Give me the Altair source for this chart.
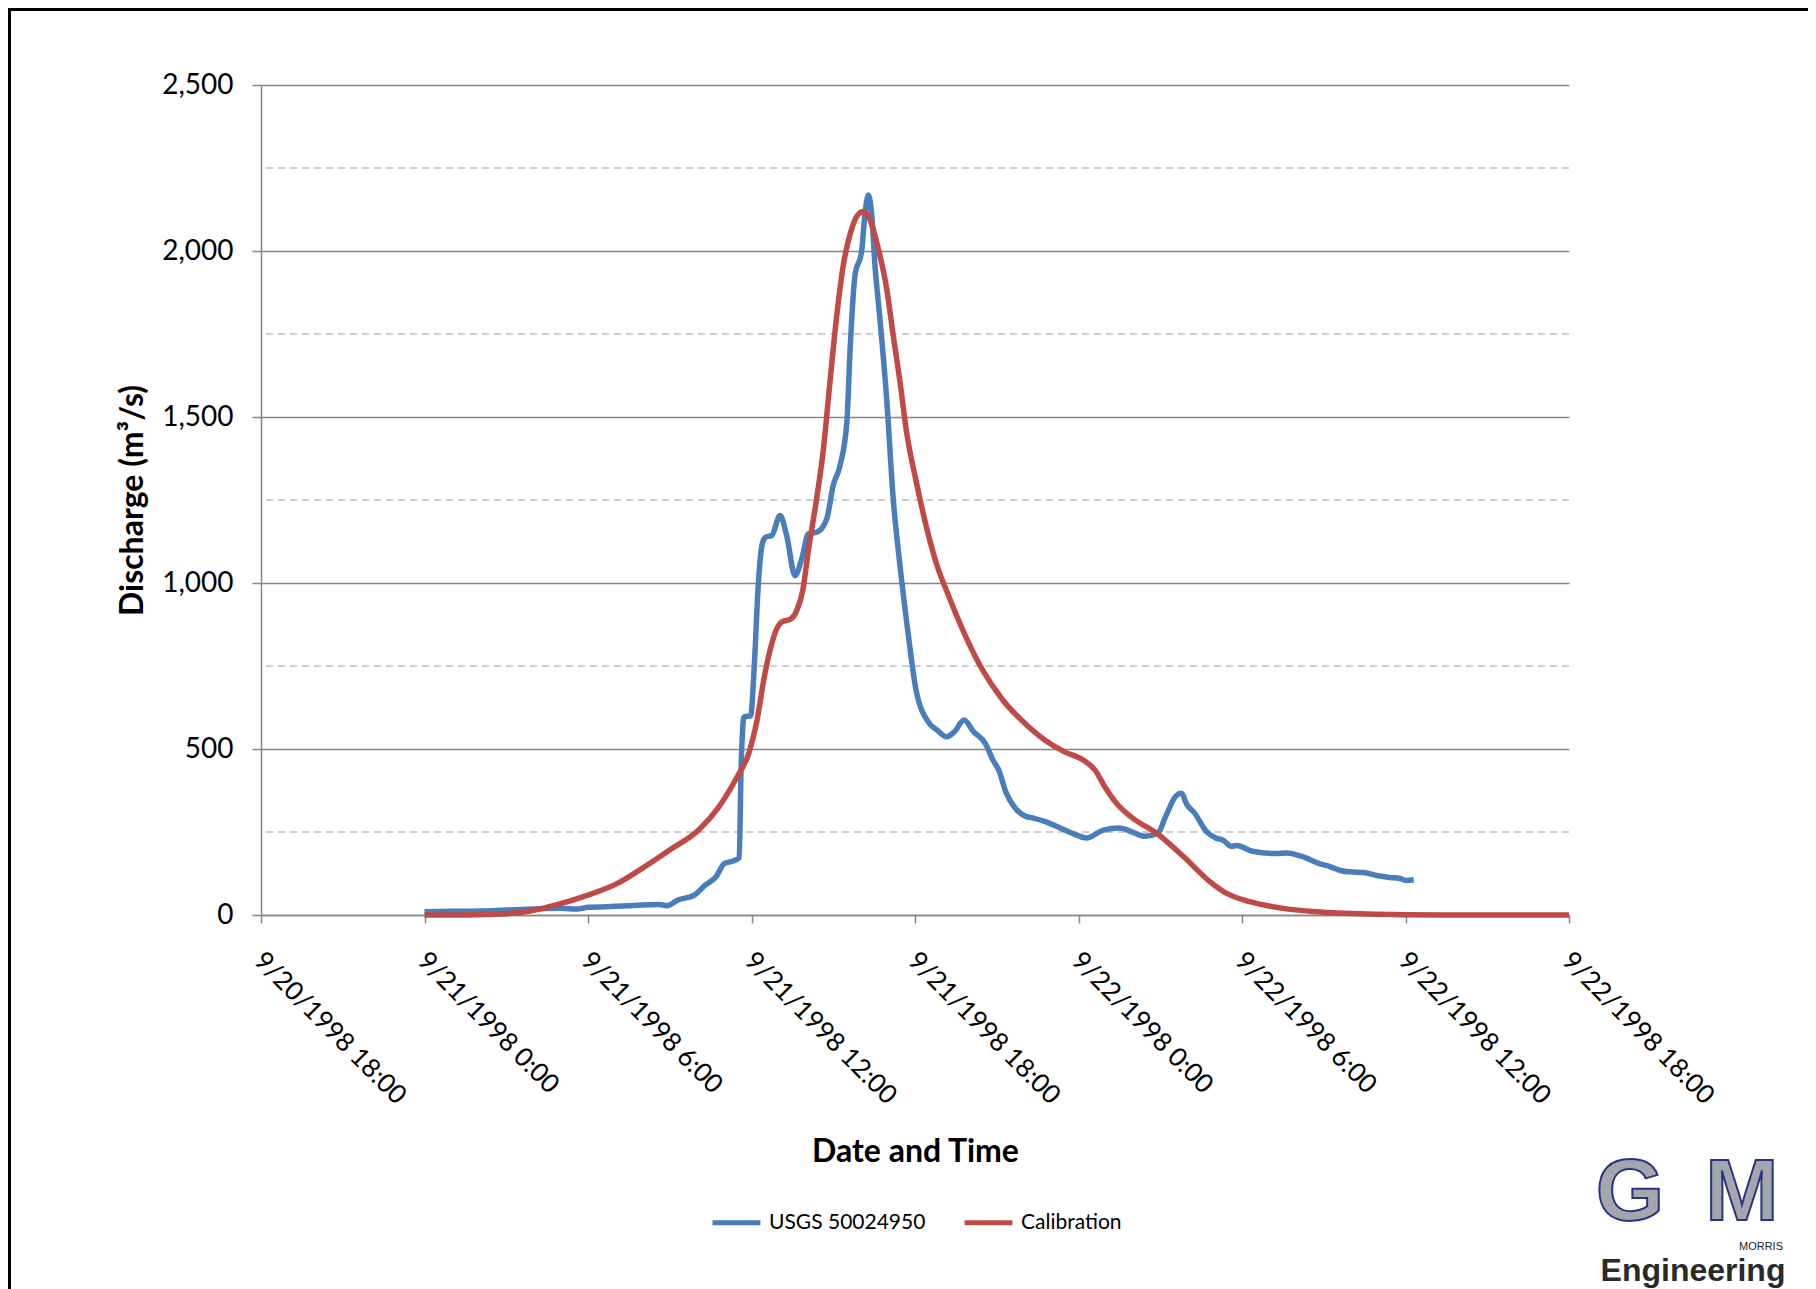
import altair as alt
import pandas as pd

# ---- data (hours after 9/21/1998 0:00) ----
usgs_hours = [0, 1, 2, 3, 4, 5, 5.6, 6, 7, 8, 8.6, 8.9, 9.3, 9.9, 10.3, 10.7, 11.0, 11.3,
              11.55, 11.62, 11.73, 11.97, 12.1, 12.25, 12.4, 12.52, 12.74, 13.05, 13.29,
              13.6, 13.84, 14.09, 14.4, 14.76, 15.0, 15.25, 15.5, 15.62, 15.8, 16.04, 16.16,
              16.29, 16.41, 16.53, 16.7, 16.96, 17.2, 17.45, 17.75, 18.04, 18.53, 18.81,
              19.16, 19.45, 19.8, 20.15, 20.58, 20.86, 21.07, 21.35, 21.63, 22.06, 22.34,
              22.76, 23.33, 23.75, 24.31, 24.88, 25.51, 26.0, 26.43, 26.92, 27.2, 27.56,
              27.77, 27.98, 28.26, 28.69, 29.04, 29.32, 29.6, 29.81, 30.38, 31.22, 31.65,
              32.18, 32.86, 33.23, 33.6, 33.97, 34.46, 34.94, 35.43, 35.8, 36.04, 36.3]
usgs_values = [10, 11, 12, 15, 18, 20, 18, 23, 26, 30, 32, 28, 45, 60, 90, 115, 155, 162,
               172, 450, 597, 600, 747, 997, 1120, 1138, 1143, 1203, 1143,
               1022, 1072, 1148, 1153, 1193, 1294, 1354, 1485, 1706, 1928, 1998, 2109,
               2169, 2109, 1958, 1807, 1555, 1254, 1052, 847, 677, 577, 557,
               537, 552, 587, 552, 517, 467, 437, 367, 327, 297, 292,
               282, 262, 247, 232, 255, 262, 249, 237, 247, 297, 357,
               367, 332, 307, 252, 232, 225, 207, 209, 192, 185, 187,
               177, 154, 146, 134, 130, 128, 119, 113, 110, 104, 106]

calib_hours = [0, 1, 2, 3, 3.7, 4.8, 6, 7.1, 8, 9, 10.07, 10.77, 11.48, 11.9, 12.18, 12.47,
               12.68, 12.9, 13.1, 13.45, 13.66, 13.88, 14.09, 14.39, 14.64, 14.88, 15.13,
               15.37, 15.61, 15.86, 16.1, 16.35, 16.65, 16.96, 17.2, 17.45, 17.69, 18.06,
               18.43, 18.8, 19.24, 19.8, 20.5, 21.2, 22.06, 22.76, 23.47, 24.17, 24.6, 25.0,
               25.4, 26.0, 26.87, 27.85, 28.83, 29.44, 30.29, 31.5, 32.74, 34.6, 36, 38, 40, 42]
calib_values = [0, 0, 1, 4, 10, 30, 60, 96, 141, 196, 257, 322, 417, 487, 577, 717,
                797, 857, 882, 892, 917, 977, 1100, 1254, 1404, 1606, 1807,
                1958, 2048, 2104, 2119, 2094, 2008, 1887, 1746, 1606, 1455, 1300,
                1165, 1055, 960, 850, 735, 650, 575, 527, 492, 467, 437, 382,
                336, 291, 246, 176, 100, 65, 40, 20, 10, 3, 1, 0, 0, 0]

series_names = ["USGS 50024950", "Calibration"]
series_colors = ["#4A7EBB", "#BE4B48"]

x_ticks = ["1998-09-20T18:00", "1998-09-21T00:00", "1998-09-21T06:00", "1998-09-21T12:00",
           "1998-09-21T18:00", "1998-09-22T00:00", "1998-09-22T06:00", "1998-09-22T12:00",
           "1998-09-22T18:00"]
y_major = [0, 500, 1000, 1500, 2000, 2500]
y_minor = [250, 750, 1250, 1750, 2250]

# ---- build tables ----
base = pd.Timestamp("1998-09-21 00:00")


def to_iso(hours):
    return [(base + pd.Timedelta(hours=h)).strftime("%Y-%m-%dT%H:%M:%S") for h in hours]


usgs_df = pd.DataFrame({"t": to_iso(usgs_hours), "q": usgs_values, "series": series_names[0]})
calib_df = pd.DataFrame({"t": to_iso(calib_hours), "q": calib_values, "series": series_names[1]})
minor_df = pd.DataFrame({"q": y_minor})


def dt(s):
    ts = pd.Timestamp(s)
    return alt.DateTime(year=ts.year, month=ts.month, date=ts.day, hours=ts.hour, minutes=ts.minute)


W, H = 1308, 830
GRAY = "#868686"

x_scale = alt.Scale(domain=[dt(x_ticks[0]), dt(x_ticks[-1])])
y_scale = alt.Scale(domain=[0, 2500], nice=False)
color_scale = alt.Scale(domain=series_names, range=series_colors)

x_axis = alt.Axis(
    values=[dt(s) for s in x_ticks], format="%-m/%-d/%Y %-H:%M",
    labelAngle=45, labelAlign="left", labelBaseline="top", labelPadding=24, labelOffset=6,
    labelFont="Lato", labelFontSize=26, labelColor="black", labelOverlap=False,
    labelFlush=False, labelBound=False, labelLimit=600,
    tickSize=8, tickColor=GRAY, tickWidth=1.5, domainColor=GRAY, domainWidth=1.5,
    grid=False, title="Date and Time", titleFont="Lato", titleFontSize=32,
    titleFontWeight="bold", titleColor="black", titleX=W / 2, titleY=246,
    titleBaseline="alphabetic", titleAlign="center",
)
y_axis = alt.Axis(
    values=y_major, format=",d", labelFont="Lato", labelFontSize=28, labelColor="black",
    labelPadding=19, tickSize=9, tickColor=GRAY, tickWidth=1.5, domainColor=GRAY,
    domainWidth=1.5, grid=True, gridColor=GRAY, gridWidth=1.5,
    title="Discharge (m³/s)", titleFont="Lato", titleFontSize=32, titleFontWeight="bold",
    titleColor="black", titleX=-119, titleY=H / 2, titleBaseline="alphabetic",
    titleAlign="center", titleAngle=270,
)

minor = alt.Chart(minor_df).mark_rule(color="#BFBFBF", strokeDash=[7, 5], strokeWidth=1.5).encode(
    y=alt.Y("q:Q", scale=y_scale, axis=y_axis)
)

legend = alt.Legend(
    orient="none", legendX=449, legendY=1111, direction="horizontal", title=None,
    symbolType="stroke", symbolStrokeWidth=5, symbolSize=2300, labelFont="Lato",
    labelFontSize=21, labelColor="black", labelOffset=6, columnPadding=28,
)


def line_layer(df):
    return alt.Chart(df).mark_line(strokeWidth=5.5, interpolate="monotone").encode(
        x=alt.X("t:T", scale=x_scale, axis=x_axis),
        y=alt.Y("q:Q", scale=y_scale, axis=y_axis),
        color=alt.Color("series:N", scale=color_scale, legend=legend),
    )


one = pd.DataFrame({"a": [0]})
frame = alt.Chart(one).mark_rect(fillOpacity=0, stroke="black", strokeWidth=3).encode(
    x=alt.value(-251.5), x2=alt.value(1550), y=alt.value(-75.5), y2=alt.value(1230)
)
logo_g = alt.Chart(one).mark_text(
    text="G", font="Liberation Sans", fontWeight="bold", fontSize=88, fill="#A3A7AD",
    stroke="#27357F", strokeWidth=2, align="center", baseline="alphabetic"
).encode(x=alt.value(1369), y=alt.value(1135))
logo_m = alt.Chart(one).mark_text(
    text="M", font="Liberation Sans", fontWeight="bold", fontSize=88, fill="#A3A7AD",
    stroke="#27357F", strokeWidth=2, align="center", baseline="alphabetic"
).encode(x=alt.value(1481), y=alt.value(1135))
logo_morris = alt.Chart(one).mark_text(
    text="MORRIS", font="Liberation Sans", fontSize=11, fill="#222222",
    align="right", baseline="alphabetic"
).encode(x=alt.value(1522), y=alt.value(1165))
logo_eng = alt.Chart(one).mark_text(
    text="Engineering", font="Liberation Sans", fontWeight="bold", fontSize=32,
    fill="#2A2A2A", align="center", baseline="alphabetic"
).encode(x=alt.value(1432), y=alt.value(1196))

chart = alt.layer(
    minor, line_layer(usgs_df), line_layer(calib_df), frame, logo_g, logo_m, logo_morris, logo_eng
).properties(
    width=W, height=H,
    autosize=alt.AutoSizeParams(type="none"),
    padding={"left": 253, "top": 77, "right": 239, "bottom": 374},
    background="white",
).configure_view(stroke=None)

chart.save("out.html", embed_options={"renderer": "svg", "actions": False})
